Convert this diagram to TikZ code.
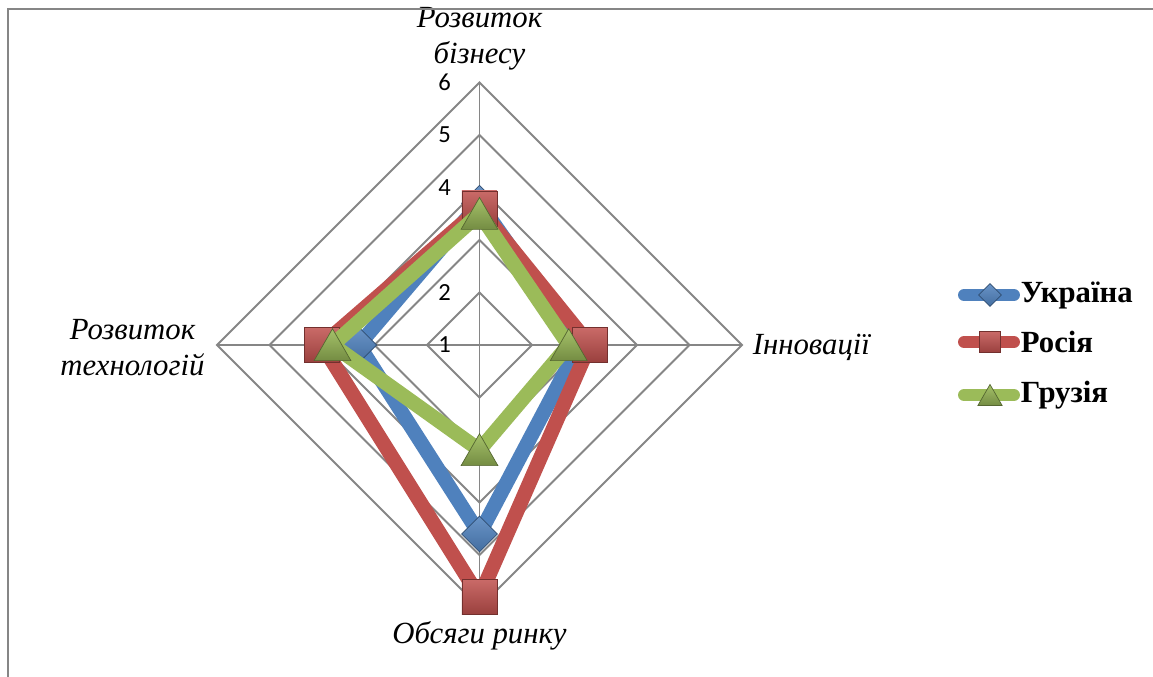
\documentclass[tikz,border=0pt]{standalone}
\usepackage{fontspec}
\setmainfont{Liberation Serif}
\newfontfamily\numfont{Carlito}
\usetikzlibrary{shapes.geometric}

\definecolor{uablue}{HTML}{4F81BD}
\definecolor{rured}{HTML}{C0504D}
\definecolor{gegreen}{HTML}{9BBB59}
\definecolor{gridgray}{HTML}{868686}

\tikzset{
  frameln/.style={gridgray, line width=1.5pt},
  gridln/.style={gridgray, line width=1.1pt},
  numlbl/.style={font=\numfont\fontsize{14}{16}\selectfont, inner sep=0pt},
  axlbl/.style={font=\fontsize{17.5}{20.5}\selectfont\itshape, align=center, inner sep=0pt},
  legtxt/.style={font=\fontsize{17.5}{20.5}\selectfont\bfseries, anchor=west, inner sep=1.3mm},
  ua line/.style={uablue, line width=8.3pt, line join=round},
  ru line/.style={rured, line width=8.3pt, line join=round},
  ge line/.style={gegreen, line width=8.3pt, line join=round},
  ua mark/.style={diamond, aspect=1, minimum width=7.2mm, minimum height=7.2mm, inner sep=0pt,
    draw=uablue!60!black, line width=0.4pt, top color=uablue!85!white, bottom color=uablue!85!black},
  ru mark/.style={rectangle, minimum size=7mm, inner sep=0pt,
    draw=rured!60!black, line width=0.4pt, top color=rured!85!white, bottom color=rured!80!black},
  ge mark/.style={regular polygon, regular polygon sides=3, minimum size=8.5mm, inner sep=0pt, yshift=-1mm,
    draw=gegreen!55!black, line width=0.4pt, top color=gegreen!90!white, bottom color=gegreen!75!black},
}

\begin{document}
\begin{tikzpicture}[x=0.2mm, y=0.2mm]
  \useasboundingbox (-479.5,-332) rectangle (673.5,345);

  % axis titles
  \node[axlbl] (biz) at (0,306) {Розвиток\\бізнесу};
  \node[axlbl, anchor=west] (inn) at (273,-2) {Інновації};
  \node[axlbl] (mkt) at (0,-291) {Обсяги ринку};
  \node[axlbl] (tech) at (-347,-3) {Розвиток\\технологій};

  % chart area frame
  \draw[frameln] (-471.5,-332) -- (-471.5,336) -- (673.5,336);

  % grid, one step = 52.5
  \foreach \k in {1,...,5}
    \draw[gridln] (0,\k*52.5) -- (\k*52.5,0) -- (0,-\k*52.5) -- (-\k*52.5,0) -- cycle;
  \draw[gridln] (0,-262.5) -- (0,262.5);
  \draw[gridln] (-262.5,0) -- (262.5,0);

  % scale
  \foreach \v in {1,...,6}
    \node[numlbl] (n\v) at (-35,{(\v-1)*52.5}) {\v};

  % series: top / right / bottom / left
  \foreach \s/\a/\b/\c/\d in {ua/3.7/2.9/4.6/3.3, ru/3.6/3.1/5.8/4.0, ge/3.5/2.7/3.0/3.8} {
    \coordinate (\s1) at (90:{(\a-1)*52.5});
    \coordinate (\s2) at (0:{(\b-1)*52.5});
    \coordinate (\s3) at (270:{(\c-1)*52.5});
    \coordinate (\s4) at (180:{(\d-1)*52.5});
    \draw[\s\space line] (\s1) -- (\s2) -- (\s3) -- (\s4) -- cycle;
    \foreach \p in {1,...,4}
      \node[\s\space mark] (\s m\p) at (\s\p) {};
  }

  % legend
  \coordinate (lua0) at (484.5,50);
  \coordinate (lru0) at (484.5,3);
  \coordinate (lge0) at (484.5,-50);
  \node[legtxt] (lua) at (534.5,50) {Україна};
  \node[legtxt] (lru) at (534.5,3) {Росія};
  \node[legtxt] (lge) at (534.5,-50) {Грузія};
  \draw[ua line, line width=6.8pt, line cap=round] (lua0) -- (lua.west);
  \draw[ru line, line width=6.8pt, line cap=round] (lru0) -- (lru.west);
  \draw[ge line, line width=6.8pt, line cap=round] (lge0) -- (lge.west);
  \node[ua mark, minimum width=4.6mm, minimum height=4.6mm] (luam) at (510.5,50) {};
  \node[ru mark, minimum size=4.2mm] (lrum) at (510.5,3) {};
  \node[ge mark, minimum size=5.6mm, yshift=0.3mm] (lgem) at (510.5,-50) {};
\end{tikzpicture}
\end{document}
